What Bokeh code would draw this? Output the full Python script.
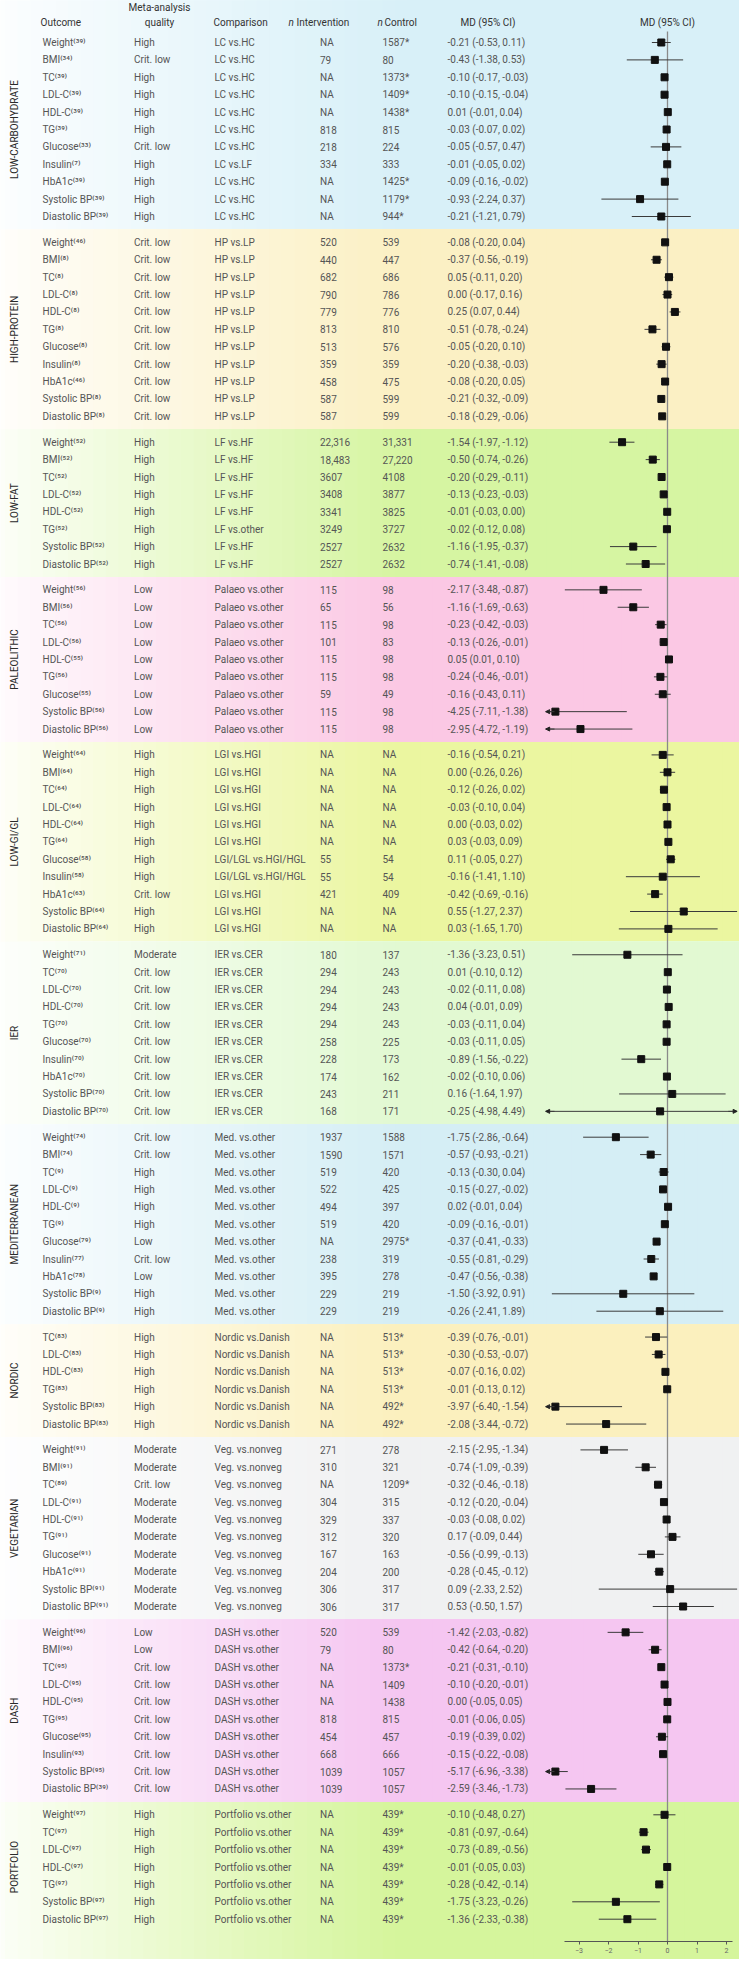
import numpy as np
from bokeh.plotting import figure
from bokeh.models import ColumnDataSource, Range1d, LinearAxis, FixedTicker, Arrow, NormalHead
from bokeh.core.properties import value
from bokeh.embed import file_html
from bokeh.resources import INLINE

# ---------------- data ----------------
sections = ["LOW-CARBOHYDRATE", "HIGH-PROTEIN", "LOW-FAT", "PALEOLITHIC", "LOW-GI/GL", "IER",
            "MEDITERRANEAN", "NORDIC", "VEGETARIAN", "DASH", "PORTFOLIO"]
section_sizes = [11, 11, 8, 9, 11, 10, 11, 6, 10, 10, 7]
section_colors = ["#d8f0f8", "#fbf0c4", "#d6f5a2", "#fbc8e4", "#ebf6a0", "#e2f9d2",
                  "#d5eef5", "#fbf0be", "#f0f1f2", "#f5c6f1", "#d5f59c"]

outcomes = [
    "Weight", "BMI", "TC", "LDL-C", "HDL-C", "TG", "Glucose", "Insulin", "HbA1c", "Systolic BP", "Diastolic BP",
    "Weight", "BMI", "TC", "LDL-C", "HDL-C", "TG", "Glucose", "Insulin", "HbA1c", "Systolic BP", "Diastolic BP",
    "Weight", "BMI", "TC", "LDL-C", "HDL-C", "TG", "Systolic BP", "Diastolic BP",
    "Weight", "BMI", "TC", "LDL-C", "HDL-C", "TG", "Glucose", "Systolic BP", "Diastolic BP",
    "Weight", "BMI", "TC", "LDL-C", "HDL-C", "TG", "Glucose", "Insulin", "HbA1c", "Systolic BP", "Diastolic BP",
    "Weight", "TC", "LDL-C", "HDL-C", "TG", "Glucose", "Insulin", "HbA1c", "Systolic BP", "Diastolic BP",
    "Weight", "BMI", "TC", "LDL-C", "HDL-C", "TG", "Glucose", "Insulin", "HbA1c", "Systolic BP", "Diastolic BP",
    "TC", "LDL-C", "HDL-C", "TG", "Systolic BP", "Diastolic BP",
    "Weight", "BMI", "TC", "LDL-C", "HDL-C", "TG", "Glucose", "HbA1c", "Systolic BP", "Diastolic BP",
    "Weight", "BMI", "TC", "LDL-C", "HDL-C", "TG", "Glucose", "Insulin", "Systolic BP", "Diastolic BP",
    "Weight", "TC", "LDL-C", "HDL-C", "TG", "Systolic BP", "Diastolic BP",
]
refs = [
    39, 34, 39, 39, 39, 39, 33, 7, 39, 39, 39,
    46, 8, 8, 8, 8, 8, 8, 8, 46, 8, 8,
    52, 52, 52, 52, 52, 52, 52, 52,
    56, 56, 56, 56, 55, 56, 55, 56, 56,
    64, 64, 64, 64, 64, 64, 58, 58, 63, 64, 64,
    71, 70, 70, 70, 70, 70, 70, 70, 70, 70,
    74, 74, 9, 9, 9, 9, 79, 77, 78, 9, 9,
    83, 83, 83, 83, 83, 83,
    91, 91, 89, 91, 91, 91, 91, 91, 91, 91,
    96, 96, 95, 95, 95, 95, 95, 93, 95, 39,
    97, 97, 97, 97, 97, 97, 97,
]
quality = [
    "High", "Crit. low", "High", "High", "High", "High", "Crit. low", "High", "High", "High", "High",
    "Crit. low", "Crit. low", "Crit. low", "Crit. low", "Crit. low", "Crit. low", "Crit. low", "Crit. low", "Crit. low", "Crit. low", "Crit. low",
    "High", "High", "High", "High", "High", "High", "High", "High",
    "Low", "Low", "Low", "Low", "Low", "Low", "Low", "Low", "Low",
    "High", "High", "High", "High", "High", "High", "High", "High", "Crit. low", "High", "High",
    "Moderate", "Crit. low", "Crit. low", "Crit. low", "Crit. low", "Crit. low", "Crit. low", "Crit. low", "Crit. low", "Crit. low",
    "Crit. low", "Crit. low", "High", "High", "High", "High", "Low", "Crit. low", "Low", "High", "High",
    "High", "High", "High", "High", "High", "High",
    "Moderate", "Moderate", "Crit. low", "Moderate", "Moderate", "Moderate", "Moderate", "Moderate", "Moderate", "Moderate",
    "Low", "Low", "Crit. low", "Crit. low", "Crit. low", "Crit. low", "Crit. low", "Crit. low", "Crit. low", "Crit. low",
    "High", "High", "High", "High", "High", "High", "High",
]
comparison = [
    "LC vs.HC", "LC vs.HC", "LC vs.HC", "LC vs.HC", "LC vs.HC", "LC vs.HC", "LC vs.HC", "LC vs.LF", "LC vs.HC", "LC vs.HC", "LC vs.HC",
    "HP vs.LP", "HP vs.LP", "HP vs.LP", "HP vs.LP", "HP vs.LP", "HP vs.LP", "HP vs.LP", "HP vs.LP", "HP vs.LP", "HP vs.LP", "HP vs.LP",
    "LF vs.HF", "LF vs.HF", "LF vs.HF", "LF vs.HF", "LF vs.HF", "LF vs.other", "LF vs.HF", "LF vs.HF",
    "Palaeo vs.other", "Palaeo vs.other", "Palaeo vs.other", "Palaeo vs.other", "Palaeo vs.other", "Palaeo vs.other", "Palaeo vs.other", "Palaeo vs.other", "Palaeo vs.other",
    "LGI vs.HGI", "LGI vs.HGI", "LGI vs.HGI", "LGI vs.HGI", "LGI vs.HGI", "LGI vs.HGI", "LGI/LGL vs.HGI/HGL", "LGI/LGL vs.HGI/HGL", "LGI vs.HGI", "LGI vs.HGI", "LGI vs.HGI",
    "IER vs.CER", "IER vs.CER", "IER vs.CER", "IER vs.CER", "IER vs.CER", "IER vs.CER", "IER vs.CER", "IER vs.CER", "IER vs.CER", "IER vs.CER",
    "Med. vs.other", "Med. vs.other", "Med. vs.other", "Med. vs.other", "Med. vs.other", "Med. vs.other", "Med. vs.other", "Med. vs.other", "Med. vs.other", "Med. vs.other", "Med. vs.other",
    "Nordic vs.Danish", "Nordic vs.Danish", "Nordic vs.Danish", "Nordic vs.Danish", "Nordic vs.Danish", "Nordic vs.Danish",
    "Veg. vs.nonveg", "Veg. vs.nonveg", "Veg. vs.nonveg", "Veg. vs.nonveg", "Veg. vs.nonveg", "Veg. vs.nonveg", "Veg. vs.nonveg", "Veg. vs.nonveg", "Veg. vs.nonveg", "Veg. vs.nonveg",
    "DASH vs.other", "DASH vs.other", "DASH vs.other", "DASH vs.other", "DASH vs.other", "DASH vs.other", "DASH vs.other", "DASH vs.other", "DASH vs.other", "DASH vs.other",
    "Portfolio vs.other", "Portfolio vs.other", "Portfolio vs.other", "Portfolio vs.other", "Portfolio vs.other", "Portfolio vs.other", "Portfolio vs.other",
]
n_intervention = [
    "NA", "79", "NA", "NA", "NA", "818", "218", "334", "NA", "NA", "NA",
    "520", "440", "682", "790", "779", "813", "513", "359", "458", "587", "587",
    "22,316", "18,483", "3607", "3408", "3341", "3249", "2527", "2527",
    "115", "65", "115", "101", "115", "115", "59", "115", "115",
    "NA", "NA", "NA", "NA", "NA", "NA", "55", "55", "421", "NA", "NA",
    "180", "294", "294", "294", "294", "258", "228", "174", "243", "168",
    "1937", "1590", "519", "522", "494", "519", "NA", "238", "395", "229", "229",
    "NA", "NA", "NA", "NA", "NA", "NA",
    "271", "310", "NA", "304", "329", "312", "167", "204", "306", "306",
    "520", "79", "NA", "NA", "NA", "818", "454", "668", "1039", "1039",
    "NA", "NA", "NA", "NA", "NA", "NA", "NA",
]
n_control = [
    "1587*", "80", "1373*", "1409*", "1438*", "815", "224", "333", "1425*", "1179*", "944*",
    "539", "447", "686", "786", "776", "810", "576", "359", "475", "599", "599",
    "31,331", "27,220", "4108", "3877", "3825", "3727", "2632", "2632",
    "98", "56", "98", "83", "98", "98", "49", "98", "98",
    "NA", "NA", "NA", "NA", "NA", "NA", "54", "54", "409", "NA", "NA",
    "137", "243", "243", "243", "243", "225", "173", "162", "211", "171",
    "1588", "1571", "420", "425", "397", "420", "2975*", "319", "278", "219", "219",
    "513*", "513*", "513*", "513*", "492*", "492*",
    "278", "321", "1209*", "315", "337", "320", "163", "200", "317", "317",
    "539", "80", "1373*", "1409", "1438", "815", "457", "666", "1057", "1057",
    "439*", "439*", "439*", "439*", "439*", "439*", "439*",
]
md = [
    -0.21, -0.43, -0.10, -0.10, 0.01, -0.03, -0.05, -0.01, -0.09, -0.93, -0.21,
    -0.08, -0.37, 0.05, 0.00, 0.25, -0.51, -0.05, -0.20, -0.08, -0.21, -0.18,
    -1.54, -0.50, -0.20, -0.13, -0.01, -0.02, -1.16, -0.74,
    -2.17, -1.16, -0.23, -0.13, 0.05, -0.24, -0.16, -4.25, -2.95,
    -0.16, 0.00, -0.12, -0.03, 0.00, 0.03, 0.11, -0.16, -0.42, 0.55, 0.03,
    -1.36, 0.01, -0.02, 0.04, -0.03, -0.03, -0.89, -0.02, 0.16, -0.25,
    -1.75, -0.57, -0.13, -0.15, 0.02, -0.09, -0.37, -0.55, -0.47, -1.50, -0.26,
    -0.39, -0.30, -0.07, -0.01, -3.97, -2.08,
    -2.15, -0.74, -0.32, -0.12, -0.03, 0.17, -0.56, -0.28, 0.09, 0.53,
    -1.42, -0.42, -0.21, -0.10, 0.00, -0.01, -0.19, -0.15, -5.17, -2.59,
    -0.10, -0.81, -0.73, -0.01, -0.28, -1.75, -1.36,
]
ci_low = [
    -0.53, -1.38, -0.17, -0.15, -0.01, -0.07, -0.57, -0.05, -0.16, -2.24, -1.21,
    -0.20, -0.56, -0.11, -0.17, 0.07, -0.78, -0.20, -0.38, -0.20, -0.32, -0.29,
    -1.97, -0.74, -0.29, -0.23, -0.03, -0.12, -1.95, -1.41,
    -3.48, -1.69, -0.42, -0.26, 0.01, -0.46, -0.43, -7.11, -4.72,
    -0.54, -0.26, -0.26, -0.10, -0.03, -0.03, -0.05, -1.41, -0.69, -1.27, -1.65,
    -3.23, -0.10, -0.11, -0.01, -0.11, -0.11, -1.56, -0.10, -1.64, -4.98,
    -2.86, -0.93, -0.30, -0.27, -0.01, -0.16, -0.41, -0.81, -0.56, -3.92, -2.41,
    -0.76, -0.53, -0.16, -0.13, -6.40, -3.44,
    -2.95, -1.09, -0.46, -0.20, -0.08, -0.09, -0.99, -0.45, -2.33, -0.50,
    -2.03, -0.64, -0.31, -0.20, -0.05, -0.06, -0.39, -0.22, -6.96, -3.46,
    -0.48, -0.97, -0.89, -0.05, -0.42, -3.23, -2.33,
]
ci_high = [
    0.11, 0.53, -0.03, -0.04, 0.04, 0.02, 0.47, 0.02, -0.02, 0.37, 0.79,
    0.04, -0.19, 0.20, 0.16, 0.44, -0.24, 0.10, -0.03, 0.05, -0.09, -0.06,
    -1.12, -0.26, -0.11, -0.03, 0.00, 0.08, -0.37, -0.08,
    -0.87, -0.63, -0.03, -0.01, 0.10, -0.01, 0.11, -1.38, -1.19,
    0.21, 0.26, 0.02, 0.04, 0.02, 0.09, 0.27, 1.10, -0.16, 2.37, 1.70,
    0.51, 0.12, 0.08, 0.09, 0.04, 0.05, -0.22, 0.06, 1.97, 4.49,
    -0.64, -0.21, 0.04, -0.02, 0.04, -0.01, -0.33, -0.29, -0.38, 0.91, 1.89,
    -0.01, -0.07, 0.02, 0.12, -1.54, -0.72,
    -1.34, -0.39, -0.18, -0.04, 0.02, 0.44, -0.13, -0.12, 2.52, 1.57,
    -0.82, -0.20, -0.10, -0.01, 0.05, 0.05, 0.02, -0.08, -3.38, -1.73,
    0.27, -0.64, -0.56, 0.03, -0.14, -0.26, -0.38,
]
axis_ticks = [-3, -2, -1, 0, 1, 2]

# ---------------- layout (reference pixel space, page margin 8px) ----------------
REF_W, REF_H = 755, 1975
MARGIN = 8
W, H = REF_W - 2 * MARGIN, REF_H - 2 * MARGIN
ZERO_PX, PX_PER_UNIT = 675.0, 29.5
ROW0, ROW_H, SEC_EXTRA = 50.0, 17.4, 8.45
AXIS_Y = 1949.0
CLIP_L, CLIP_R = -4.13, 2.36
FONT = value("Roboto")
TXT = "#555555"

sec_idx = np.repeat(np.arange(len(sections)), section_sizes)
row_y = ROW0 + np.arange(len(outcomes)) * ROW_H + sec_idx * SEC_EXTRA

x_lo, x_hi = MARGIN, REF_W - MARGIN
p = figure(width=W, height=H, x_range=Range1d(x_lo, x_hi), y_range=Range1d(REF_H - MARGIN, MARGIN),
           output_backend="svg", toolbar_location=None,
           x_axis_location=None, y_axis_location=None, min_border=0,
           outline_line_color=None, background_fill_color="white", border_fill_color="white")
p.extra_x_ranges = {"md": Range1d((x_lo - ZERO_PX) / PX_PER_UNIT, (x_hi - ZERO_PX) / PX_PER_UNIT)}
p.grid.visible = False

# ---------------- section backgrounds (horizontal white -> colour gradient) ----------------
starts = np.cumsum([0] + section_sizes[:-1])
ends = np.cumsum(section_sizes) - 1
bounds = []
for s in range(len(sections)):
    top = 0 if s == 0 else (row_y[ends[s - 1]] + row_y[starts[s]]) / 2
    bot = 1972 if s == len(sections) - 1 else (row_y[ends[s]] + row_y[starts[s + 1]]) / 2 + 1
    bounds.append((top, bot))

N = 60
bg = dict(left=[], right=[], top=[], bottom=[], color=[])
for s, (top, bot) in enumerate(bounds):
    c = section_colors[s].lstrip("#")
    rgb = np.array([int(c[i:i + 2], 16) for i in (0, 2, 4)], dtype=float)
    for k in range(N):
        x0 = k * REF_W / N
        t = min(1.0, 0.04 + (x0 + REF_W / N / 2) / 420.0) ** 0.9
        col = 255 * (1 - t) + rgb * t
        bg["left"].append(x0); bg["right"].append(REF_W)
        bg["top"].append(top); bg["bottom"].append(bot)
        bg["color"].append("#%02x%02x%02x" % tuple(int(round(v)) for v in col))
p.quad(left="left", right="right", top="top", bottom="bottom", fill_color="color",
       line_color=None, source=ColumnDataSource(bg))

# ---------------- table text ----------------
SUP = str.maketrans("0123456789()", "⁰¹²³⁴⁵⁶⁷⁸⁹⁽⁾")
outcome_txt = [o + ("(%d)" % r).translate(SUP) for o, r in zip(outcomes, refs)]
md_txt = [("%s%.2f (%.2f, %.2f)" % ("" if m < 0 else " ", m, lo, hi)).replace("-0.00", "0.00")
          for m, lo, hi in zip(md, ci_low, ci_high)]

col_x = {"outcome": 50, "quality": 141.5, "comparison": 222, "nint": 327.5, "nctl": 390, "md": 455}
for key, texts in [("outcome", outcome_txt), ("quality", quality), ("comparison", comparison),
                   ("nint", n_intervention), ("nctl", n_control), ("md", md_txt)]:
    src = ColumnDataSource(dict(x=[col_x[key]] * len(texts), y=row_y, t=texts))
    p.text(x="x", y="y", text="t", source=src, text_font=FONT, text_font_size=value("10px"),
           text_color=TXT, text_baseline="middle", text_align="left")

# section labels (rotated)
sec_y = [(row_y[a] + row_y[b]) / 2 for a, b in zip(starts, ends)]
p.text(x=[22] * len(sections), y=sec_y, text=sections, angle=np.pi / 2, text_font=FONT,
       text_font_size=value("10px"), text_color="#2a2a2a", text_align="center", text_baseline="middle")

# headers
HDR = "#333333"
hdr_src = ColumnDataSource(dict(
    x=[48, 221, 304, 392, 468],
    y=[30, 30, 30, 30, 30],
    t=["Outcome", "Comparison", "Intervention", "Control", "MD (95% CI)"]))
p.text(x="x", y="y", text="t", source=hdr_src, text_font=FONT, text_font_size=value("10px"),
       text_color=HDR, text_baseline="middle", text_align="left")
p.text(x=[296, 385], y=[30, 30], text=["n", "n"], text_font=FONT, text_font_style="italic",
       text_font_size=value("10px"), text_color=HDR, text_baseline="middle", text_align="left")
p.text(x=[167, 167, ZERO_PX], y=[15, 30, 30], text=["Meta-analysis", "quality", "MD (95% CI)"],
       text_font=FONT, text_font_size=value("10px"), text_color=HDR, text_baseline="middle",
       text_align="center")

# ---------------- forest plot ----------------
md_a, lo_a, hi_a = np.array(md), np.array(ci_low), np.array(ci_high)
fsrc = ColumnDataSource(dict(
    y=row_y,
    lo=np.clip(lo_a, CLIP_L, CLIP_R),
    hi=np.clip(hi_a, CLIP_L, CLIP_R),
    m=np.clip(md_a, -3.8, 2.3)))

# zero line
p.segment(x0=[0], x1=[0], y0=[row_y[0] - 11], y1=[AXIS_Y], x_range_name="md",
          line_color="#8a8a8a", line_width=1.3)

p.segment(x0="lo", x1="hi", y0="y", y1="y", source=fsrc, x_range_name="md",
          line_color="#3a3a3a", line_width=1)
p.scatter(x="m", y="y", source=fsrc, x_range_name="md", marker="square", size=7,
          fill_color="#111111", line_color="#111111")

# arrowheads where the CI runs well past the plotted range
left_clip = lo_a < CLIP_L
right_clip = hi_a > CLIP_R + 0.5
asrc_l = ColumnDataSource(dict(xs=[CLIP_L + 0.3] * int(left_clip.sum()), xe=[CLIP_L] * int(left_clip.sum()),
                               y=row_y[left_clip]))
asrc_r = ColumnDataSource(dict(xs=[CLIP_R - 0.3] * int(right_clip.sum()), xe=[CLIP_R] * int(right_clip.sum()),
                               y=row_y[right_clip]))
for src in (asrc_l, asrc_r):
    p.add_layout(Arrow(x_start="xs", y_start="y", x_end="xe", y_end="y", source=src, x_range_name="md",
                       line_color="#3a3a3a", line_width=1,
                       end=NormalHead(size=4, fill_color="#222222", line_color="#222222")))

# axis
ax = LinearAxis(x_range_name="md", fixed_location=AXIS_Y, bounds=(-3.5, 2.2),
                ticker=FixedTicker(ticks=axis_ticks))
ax.axis_line_color = "#555555"
ax.major_tick_line_color = "#555555"
ax.major_tick_in = 0
ax.major_tick_out = 3
ax.minor_tick_line_color = None
ax.major_label_text_font = "Roboto"
ax.major_label_text_font_size = "7px"
ax.major_label_text_color = "#666666"
ax.major_label_standoff = 3
p.add_layout(ax, "below")

open("out.html", "w").write(file_html(p, INLINE, title="Diet forest plot"))
